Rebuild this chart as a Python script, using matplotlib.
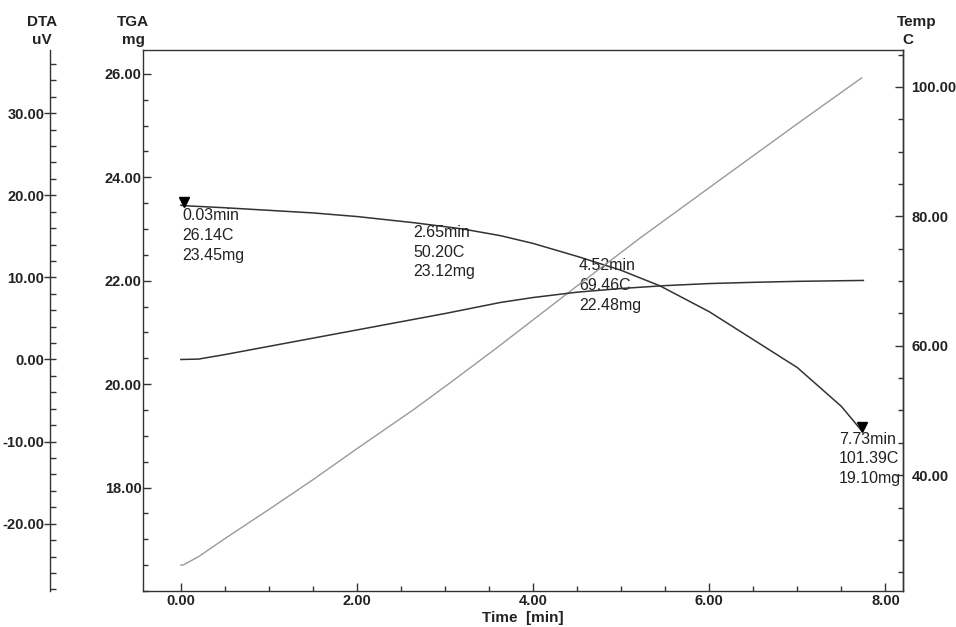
import numpy as np
import matplotlib.pyplot as plt
from matplotlib.ticker import MultipleLocator

plt.rcParams['font.family'] = ['Liberation Sans', 'DejaVu Sans']

# ---------------------------------------------------------------------------
# data
time_tga = [0.0, 0.03, 0.5, 1.0, 1.5, 2.0, 2.65, 3.2, 3.63, 4.0, 4.52, 5.0, 5.44, 6.0, 6.5, 7.0, 7.5, 7.73]
tga_mg = [23.46, 23.45, 23.41, 23.36, 23.31, 23.24, 23.12, 23.00, 22.87, 22.72, 22.46, 22.20, 21.90, 21.40, 20.86, 20.32, 19.57, 19.10]

time_dta = [0.0, 0.2, 0.5, 1.0, 1.5, 2.0, 2.5, 3.0, 3.63, 4.0, 4.5, 5.0, 5.5, 6.0, 6.5, 7.0, 7.75]
dta_uv = [0.0, 0.05, 0.6, 1.6, 2.6, 3.6, 4.6, 5.6, 6.95, 7.55, 8.2, 8.65, 9.0, 9.25, 9.4, 9.52, 9.63]

time_temp = [0.0, 0.03, 0.2, 0.5, 1.0, 1.5, 2.0, 2.65, 3.06, 3.59, 4.52, 5.22, 6.24, 7.0, 7.73]
temp_c = [26.1, 26.14, 27.4, 30.2, 34.7, 39.3, 44.1, 50.20, 54.3, 59.7, 69.46, 76.7, 86.8, 94.3, 101.39]

# marked points: time, temp, mass
mark_time = [0.03, 2.65, 4.52, 7.73]
mark_temp = [26.14, 50.20, 69.46, 101.39]
mark_mass = [23.45, 23.12, 22.48, 19.10]
# where each text block sits (time, mg)
label_pos = [(0.02, 23.40), (2.64, 23.08), (4.52, 22.44), (7.47, 19.08)]
arrow_idx = [0, 3]

x_major = [0, 2, 4, 6, 8]
tga_major = [18, 20, 22, 24, 26]
temp_major = [40, 60, 80, 100]
dta_major = [-20, -10, 0, 10, 20, 30]

dark = '#333333'
light = '#9a9a9a'

# ---------------------------------------------------------------------------
fig = plt.figure(figsize=(9.56, 6.27), dpi=100)
ax = fig.add_axes([143 / 956, 1 - 591 / 627, 760 / 956, 541 / 627])
ax_temp = ax.twinx()
ax_dta = ax.twinx()

ax.plot(time_tga, tga_mg, color=dark, lw=1.1)
ax_dta.plot(time_dta, dta_uv, color=dark, lw=1.1)
ax_temp.plot(time_temp, temp_c, color=light, lw=1.0)

ax.set_xlim(-0.43, 8.2)
ax.set_ylim(16.0, 26.46)
ax_temp.set_ylim(22.1, 105.7)
ax_dta.set_ylim(-28.2, 37.7)

# markers and annotations
for i in arrow_idx:
    ax.plot(mark_time[i], mark_mass[i] + 0.07, marker='v', color='black', ms=7, mec='black')
for (lx, ly), t, c, m in zip(label_pos, mark_time, mark_temp, mark_mass):
    ax.text(lx, ly, f'{t:.2f}min\n{c:.2f}C\n{m:.2f}mg', fontsize=11.5, color='#222222',
            va='top', ha='left', linespacing=1.4, zorder=5)

# ---------------------------------------------------------------------------
# axes styling
ax_dta.spines['left'].set_position(('axes', -93 / 760))
ax_dta.spines['left'].set_visible(True)
for s in ('right', 'top', 'bottom'):
    ax_dta.spines[s].set_visible(False)
ax_dta.yaxis.set_ticks_position('left')
for s in ('left', 'top', 'bottom'):
    ax_temp.spines[s].set_visible(False)

ax.set_xticks(x_major, labels=[f'{v:.2f}' for v in x_major])
ax.set_yticks(tga_major, labels=[f'{v:.2f}' for v in tga_major])
ax_temp.set_yticks(temp_major, labels=[f'{v:.2f}' for v in temp_major])
ax_dta.set_yticks(dta_major, labels=[f'{v:.2f}' for v in dta_major])
ax.xaxis.set_minor_locator(MultipleLocator(0.5))
ax.yaxis.set_minor_locator(MultipleLocator(0.5))
ax_temp.yaxis.set_minor_locator(MultipleLocator(5))
ax_dta.yaxis.set_minor_locator(MultipleLocator(2))

for a in (ax, ax_temp, ax_dta):
    for s in a.spines.values():
        s.set_color(dark)
        s.set_linewidth(1.0)

ax.tick_params(which='major', direction='in', length=6, width=1, color=dark, pad=2, labelsize=10.5)
ax.tick_params(which='minor', direction='in', length=3.5, width=1, color=dark)
ax.tick_params(axis='y', pad=1)
ax_temp.tick_params(which='major', direction='in', length=6, width=1, color=dark, pad=6, labelsize=10.5)
ax_temp.tick_params(which='minor', direction='in', length=3.5, width=1, color=dark)
ax_dta.tick_params(which='major', direction='inout', length=8, width=1, color=dark, pad=0, labelsize=10.5)
ax_dta.tick_params(which='minor', direction='in', length=4, width=1, color=dark)

for a in (ax, ax_temp, ax_dta):
    for lab in a.get_xticklabels() + a.get_yticklabels():
        lab.set_fontweight('bold')
        lab.set_color('#222222')

# axis titles
hdr = dict(fontsize=11, fontweight='bold', ha='center', va='center', color='#222222')
fig.text(42 / 956, 1 - 22 / 627, 'DTA', **hdr)
fig.text(42 / 956, 1 - 40 / 627, 'uV', **hdr)
fig.text(133 / 956, 1 - 22 / 627, 'TGA', **hdr)
fig.text(133 / 956, 1 - 40 / 627, 'mg', **hdr)
fig.text(917 / 956, 1 - 22 / 627, 'Temp', **hdr)
fig.text(908 / 956, 1 - 40 / 627, 'C', **hdr)
fig.text(523 / 956, 1 - 618 / 627, 'Time  [min]', **hdr)

fig.savefig('out.png', dpi=100)
